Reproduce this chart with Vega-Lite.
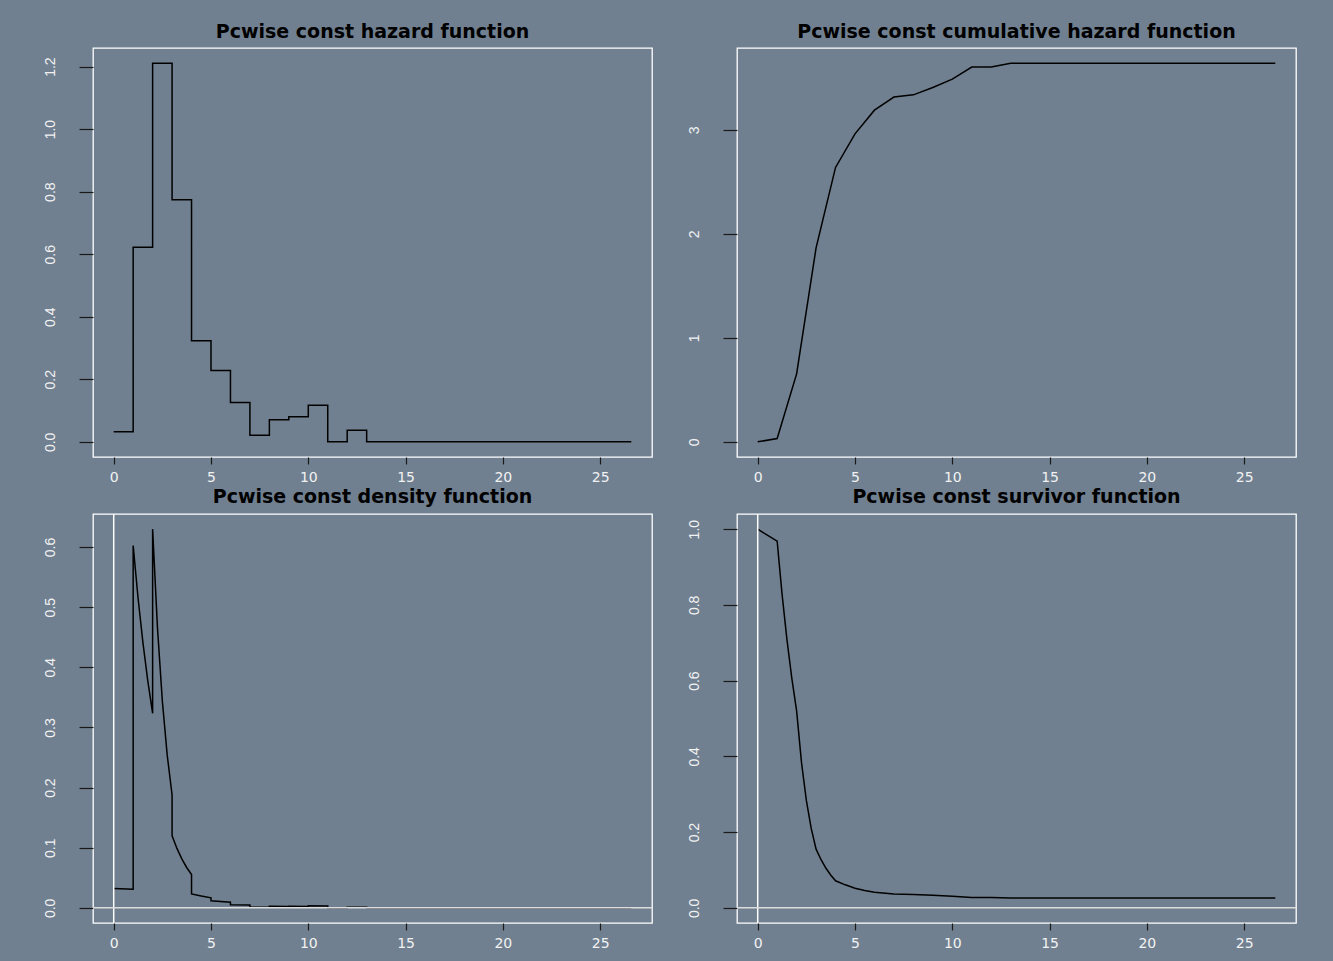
{
  "$schema": "https://vega.github.io/schema/vega-lite/v6.json",
  "padding": {"left": 42, "top": 22, "right": 40, "bottom": 14},
  "background": "#708090",
  "datasets": {
    "hazard": [
      {"t": 0, "h": 0.032}, {"t": 1, "h": 0.622}, {"t": 2, "h": 1.211}, {"t": 3, "h": 0.774},
      {"t": 4, "h": 0.323}, {"t": 5, "h": 0.228}, {"t": 6, "h": 0.126}, {"t": 7, "h": 0.021},
      {"t": 8, "h": 0.071}, {"t": 9, "h": 0.080}, {"t": 10, "h": 0.117}, {"t": 11, "h": 0.0},
      {"t": 12, "h": 0.037}, {"t": 13, "h": 0.0}, {"t": 16, "h": 0.0}, {"t": 21.3, "h": 0.0},
      {"t": 26.6, "h": 0.0}
    ],
    "cumhaz": [
      {"t": 0, "H": 0}, {"t": 1, "H": 0.032}, {"t": 2, "H": 0.654}, {"t": 3, "H": 1.865},
      {"t": 4, "H": 2.639}, {"t": 5, "H": 2.962}, {"t": 6, "H": 3.19}, {"t": 7, "H": 3.316},
      {"t": 8, "H": 3.337}, {"t": 9, "H": 3.408}, {"t": 10, "H": 3.488}, {"t": 11, "H": 3.605},
      {"t": 12, "H": 3.605}, {"t": 13, "H": 3.642}, {"t": 16, "H": 3.642}, {"t": 21.3, "H": 3.642},
      {"t": 26.6, "H": 3.642}
    ],
    "density": [
      {"i": 1, "t": 0, "f": 0.032}, {"i": 2, "t": 1, "f": 0.031},
      {"i": 3, "t": 1, "f": 0.6024}, {"i": 4, "t": 1.25, "f": 0.5156}, {"i": 5, "t": 1.5, "f": 0.4414}, {"i": 6, "t": 1.75, "f": 0.3779}, {"i": 7, "t": 2, "f": 0.3234},
      {"i": 8, "t": 2, "f": 0.6297}, {"i": 9, "t": 2.25, "f": 0.4653}, {"i": 10, "t": 2.5, "f": 0.3437}, {"i": 11, "t": 2.75, "f": 0.2539}, {"i": 12, "t": 3, "f": 0.1876},
      {"i": 13, "t": 3, "f": 0.1199}, {"i": 14, "t": 3.25, "f": 0.0988}, {"i": 15, "t": 3.5, "f": 0.0814}, {"i": 16, "t": 3.75, "f": 0.0671}, {"i": 17, "t": 4, "f": 0.0553},
      {"i": 18, "t": 4, "f": 0.0231}, {"i": 19, "t": 4.5, "f": 0.0196}, {"i": 20, "t": 5, "f": 0.0167},
      {"i": 21, "t": 5, "f": 0.0118}, {"i": 22, "t": 6, "f": 0.0094},
      {"i": 23, "t": 6, "f": 0.0052}, {"i": 24, "t": 7, "f": 0.0046},
      {"i": 25, "t": 7, "f": 0.0008}, {"i": 26, "t": 8, "f": 0.0008},
      {"i": 27, "t": 8, "f": 0.0025}, {"i": 28, "t": 9, "f": 0.0024},
      {"i": 29, "t": 9, "f": 0.0026}, {"i": 30, "t": 10, "f": 0.0024},
      {"i": 31, "t": 10, "f": 0.0036}, {"i": 32, "t": 11, "f": 0.0032},
      {"i": 33, "t": 11, "f": 0.0}, {"i": 34, "t": 12, "f": 0.0},
      {"i": 35, "t": 12, "f": 0.0010}, {"i": 36, "t": 13, "f": 0.0010},
      {"i": 37, "t": 13, "f": 0.0}, {"i": 38, "t": 16, "f": 0.0}, {"i": 39, "t": 21.3, "f": 0.0}, {"i": 40, "t": 26.6, "f": 0.0}
    ],
    "survival": [
      {"t": 0, "S": 1.0}, {"t": 1, "S": 0.9685}, {"t": 1.25, "S": 0.829}, {"t": 1.5, "S": 0.7096},
      {"t": 1.75, "S": 0.6075}, {"t": 2, "S": 0.52}, {"t": 2.25, "S": 0.3842}, {"t": 2.5, "S": 0.2838},
      {"t": 2.75, "S": 0.2097}, {"t": 3, "S": 0.1549}, {"t": 3.25, "S": 0.1277}, {"t": 3.5, "S": 0.1052},
      {"t": 3.75, "S": 0.0867}, {"t": 4, "S": 0.0714}, {"t": 4.5, "S": 0.0608}, {"t": 5, "S": 0.0517},
      {"t": 5.5, "S": 0.0461}, {"t": 6, "S": 0.0412}, {"t": 7, "S": 0.0363}, {"t": 8, "S": 0.0355},
      {"t": 9, "S": 0.0331}, {"t": 10, "S": 0.0306}, {"t": 11, "S": 0.0272}, {"t": 12, "S": 0.0272},
      {"t": 13, "S": 0.0262}, {"t": 16, "S": 0.0262}, {"t": 21.3, "S": 0.0262}, {"t": 26.6, "S": 0.0262}
    ]
  },
  "columns": 2,
  "bounds": "flush",
  "spacing": {"row": 57, "column": 85},
  "concat": [
    {
      "width": 559, "height": 409,
      "title": {"text": "Pcwise const hazard function"},
      "data": {"name": "hazard"},
      "mark": {"type": "line", "interpolate": "step-after"},
      "encoding": {
        "x": {"field": "t", "type": "quantitative", "scale": {"domain": [-1.064, 27.664], "nice": false, "zero": false}, "axis": {"values": [0, 5, 10, 15, 20, 25]}},
        "y": {"field": "h", "type": "quantitative", "scale": {"domain": [-0.0484, 1.2594], "nice": false, "zero": false}, "axis": {"values": [0, 0.2, 0.4, 0.6, 0.8, 1.0, 1.2], "format": ".1f"}}
      }
    },
    {
      "width": 559, "height": 409,
      "title": {"text": "Pcwise const cumulative hazard function"},
      "data": {"name": "cumhaz"},
      "mark": {"type": "line"},
      "encoding": {
        "x": {"field": "t", "type": "quantitative", "scale": {"domain": [-1.064, 27.664], "nice": false, "zero": false}, "axis": {"values": [0, 5, 10, 15, 20, 25]}},
        "y": {"field": "H", "type": "quantitative", "scale": {"domain": [-0.1457, 3.7877], "nice": false, "zero": false}, "axis": {"values": [0, 1, 2, 3], "format": "d"}}
      }
    },
    {
      "width": 559, "height": 409,
      "title": {"text": "Pcwise const density function"},
      "layer": [
        {
          "data": {"name": "density"},
          "mark": {"type": "line"},
          "encoding": {
            "x": {"field": "t", "type": "quantitative", "scale": {"domain": [-1.064, 27.664], "nice": false, "zero": false}, "axis": {"values": [0, 5, 10, 15, 20, 25]}},
            "y": {"field": "f", "type": "quantitative", "scale": {"domain": [-0.0252, 0.6549], "nice": false, "zero": false}, "axis": {"values": [0, 0.1, 0.2, 0.3, 0.4, 0.5, 0.6], "format": ".1f"}},
            "order": {"field": "i", "type": "quantitative"}
          }
        },
        {
          "data": {"values": [{}]},
          "mark": {"type": "rule", "color": "white", "strokeWidth": 1.5},
          "encoding": {"x": {"datum": 0}}
        },
        {
          "data": {"values": [{}]},
          "mark": {"type": "rule", "color": "#dcdcdc", "strokeWidth": 1.5},
          "encoding": {"y": {"datum": 0}}
        }
      ]
    },
    {
      "width": 559, "height": 409,
      "title": {"text": "Pcwise const survivor function"},
      "layer": [
        {
          "data": {"name": "survival"},
          "mark": {"type": "line"},
          "encoding": {
            "x": {"field": "t", "type": "quantitative", "scale": {"domain": [-1.064, 27.664], "nice": false, "zero": false}, "axis": {"values": [0, 5, 10, 15, 20, 25]}},
            "y": {"field": "S", "type": "quantitative", "scale": {"domain": [-0.04, 1.04], "nice": false, "zero": false}, "axis": {"values": [0, 0.2, 0.4, 0.6, 0.8, 1.0], "format": ".1f"}}
          }
        },
        {
          "data": {"values": [{}]},
          "mark": {"type": "rule", "color": "white", "strokeWidth": 1.5},
          "encoding": {"x": {"datum": 0}}
        },
        {
          "data": {"values": [{}]},
          "mark": {"type": "rule", "color": "#dcdcdc", "strokeWidth": 1.5},
          "encoding": {"y": {"datum": 0}}
        }
      ]
    }
  ],
  "config": {
    "view": {"stroke": "white", "strokeWidth": 1.3, "fill": null},
    "axis": {"domain": false, "grid": false, "tickColor": "#1a1a1a", "tickWidth": 1.2, "labelColor": "#f2f2f2", "title": null, "labelOverlap": false},
    "axisX": {"tickSize": 7, "labelFontSize": 14, "labelPadding": 6, "labelFont": "DejaVu Sans"},
    "axisY": {"tickSize": 14, "labelAngle": -90, "labelFontSize": 14, "labelPadding": 22, "labelAlign": "center", "labelBaseline": "bottom", "labelFont": "Liberation Sans"},
    "title": {"font": "DejaVu Sans", "fontSize": 19, "fontWeight": "bold", "color": "black", "anchor": "middle", "offset": 6, "baseline": "alphabetic"},
    "line": {"color": "black", "strokeWidth": 1.5}
  }
}
